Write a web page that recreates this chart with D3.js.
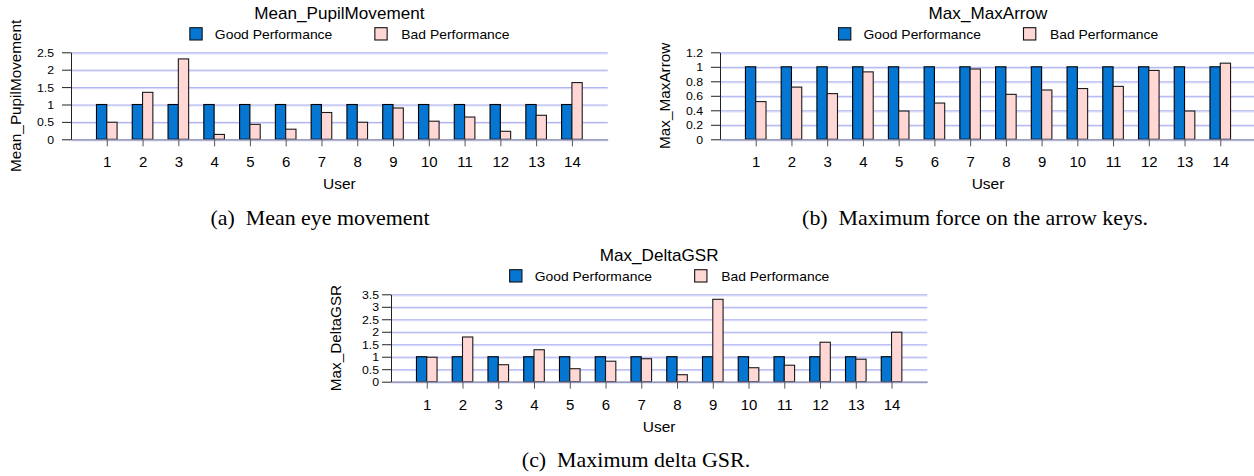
<!DOCTYPE html>
<html><head><meta charset="utf-8">
<script src="https://cdn.jsdelivr.net/npm/d3@7"></script>
<style>body{margin:0;background:#fff} svg{display:block}</style>
</head><body>
<svg id="fig" width="1254" height="476"></svg>
<script>
// ---------------- data ----------------
const users = [1, 2, 3, 4, 5, 6, 7, 8, 9, 10, 11, 12, 13, 14];
const seriesNames = ["Good Performance", "Bad Performance"];

const goodPupil = [1, 1, 1, 1, 1, 1, 1, 1, 1, 1, 1, 1, 1, 1];
const badPupil  = [0.49, 1.35, 2.31, 0.14, 0.43, 0.29, 0.77, 0.49, 0.90, 0.52, 0.64, 0.23, 0.69, 1.63];

const goodArrow = [1, 1, 1, 1, 1, 1, 1, 1, 1, 1, 1, 1, 1, 1];
const badArrow  = [0.52, 0.72, 0.63, 0.93, 0.39, 0.50, 0.97, 0.62, 0.68, 0.70, 0.73, 0.95, 0.39, 1.05];

const goodGSR = [1, 1, 1, 1, 1, 1, 1, 1, 1, 1, 1, 1, 1, 1];
const badGSR  = [0.98, 1.79, 0.68, 1.28, 0.52, 0.82, 0.92, 0.28, 3.30, 0.56, 0.66, 1.58, 0.90, 1.98];

const ticksPupil = [0, 0.5, 1, 1.5, 2, 2.5];
const ticksArrow = [0, 0.2, 0.4, 0.6, 0.8, 1, 1.2];
const ticksGSR   = [0, 0.5, 1, 1.5, 2, 2.5, 3, 3.5];

const titles   = ["Mean_PupilMovement", "Max_MaxArrow", "Max_DeltaGSR"];
const captions = ["(a)\u2002Mean eye movement", "(b)\u2002Maximum force on the arrow keys.", "(c)\u2002Maximum delta GSR."];
const xLabel = "User";

// ---------------- style / layout ----------------
const SANS = "'Liberation Sans', Arial, Helvetica, sans-serif";
const SERIF = "'Liberation Serif', 'Times New Roman', serif";
const SX = 1.07; // horizontal stretch of text seen in reference
const colGood = "#0577d3", colBad = "#ffd8d6";
const gridDark = "#abaef2", gridLight = "#dfe0fa";

const svg = d3.select("#fig");

const charts = [
  {good: goodPupil, bad: badPupil, ticks: ticksPupil, title: titles[0], cap: captions[0],
   left: 71, right: 607.7, top: 52.3, bottom: 139.3, capX: 320, capY: 225, tickFont: 11.5, yPad: 8},
  {good: goodArrow, bad: badArrow, ticks: ticksArrow, title: titles[1], cap: captions[1],
   left: 720, right: 1256, top: 52.3, bottom: 139.3, capX: 975, capY: 225, tickFont: 11.5, yPad: 8},
  {good: goodGSR, bad: badGSR, ticks: ticksGSR, title: titles[2], cap: captions[2],
   left: 391, right: 927.3, top: 294.3, bottom: 381.7, capX: 636, capY: 467, tickFont: 11.5, yPad: 3}
];

function stretchText(sel, x, y, sx) {
  sel.attr("x", null).attr("y", null)
     .attr("transform", `translate(${x},${y}) scale(${sx},1)`);
  return sel;
}

charts.forEach(c => {
  const g = svg.append("g");
  const x = d3.scaleLinear().domain([0, users.length + 1]).range([c.left, c.right]);
  const y = d3.scaleLinear().domain([0, d3.max(c.ticks)]).range([c.bottom, c.top]);
  const band = x(1) - x(0);
  const bw = band * 0.288;
  const cx = (c.left + c.right) / 2;

  // gridlines
  const grid = g.append("g");
  c.ticks.forEach(t => {
    grid.append("line").attr("x1", c.left).attr("x2", c.right)
      .attr("y1", y(t) + 1.5).attr("y2", y(t) + 1.5)
      .attr("stroke", gridLight).attr("stroke-width", 1.2);
    grid.append("line").attr("x1", c.left).attr("x2", c.right)
      .attr("y1", y(t) + 0.5).attr("y2", y(t) + 0.5)
      .attr("stroke", gridDark).attr("stroke-width", 1);
  });

  // bars
  const rows = users.map((u, i) => ({u, good: c.good[i], bad: c.bad[i]}));
  g.append("g").selectAll("rect.good").data(rows).join("rect")
    .attr("x", d => x(d.u) - bw).attr("width", bw)
    .attr("y", d => y(d.good)).attr("height", d => y(0) - y(d.good))
    .attr("fill", colGood).attr("stroke", "#000").attr("stroke-width", 1.1);
  g.append("g").selectAll("rect.bad").data(rows).join("rect")
    .attr("x", d => x(d.u)).attr("width", bw)
    .attr("y", d => y(d.bad)).attr("height", d => y(0) - y(d.bad))
    .attr("fill", colBad).attr("stroke", "#1a1a1a").attr("stroke-width", 1.1);

  // x axis
  const xa = g.append("g").attr("transform", `translate(0,${c.bottom})`)
    .call(d3.axisBottom(x).tickValues(users).tickSize(7).tickSizeOuter(0));
  xa.select(".domain").attr("stroke", "#8f90a8").attr("stroke-width", 1.3);
  xa.selectAll(".tick line").attr("stroke", "#555");
  xa.selectAll(".tick text").each(function() {
    const t = d3.select(this);
    t.attr("dy", null).attr("font-size", 14).attr("font-family", SANS).attr("fill", "#000");
    stretchText(t, 0, 28, SX);
  });

  // y axis
  const ya = g.append("g").attr("transform", `translate(${c.left},0)`)
    .call(d3.axisLeft(y).tickValues(c.ticks).tickSize(9).tickSizeOuter(0).tickFormat(d => String(d)));
  ya.select(".domain").attr("stroke", "#222");
  ya.selectAll(".tick line").attr("stroke", "#222");
  ya.selectAll(".tick text").each(function() {
    const t = d3.select(this);
    t.attr("font-size", c.tickFont).attr("font-family", SANS).attr("fill", "#000").attr("dy", "0.34em");
    stretchText(t, -(9 + c.yPad), 0, SX);
  });

  // title
  stretchText(g.append("text").text(c.title).attr("text-anchor", "middle")
    .attr("font-family", SANS).attr("font-size", 16), cx, c.top - 33.5, SX);

  // legend
  const lg = [{name: seriesNames[0], col: colGood, off: -149.5, toff: -124.5},
              {name: seriesNames[1], col: colBad, off: 35.5, toff: 62}];
  lg.forEach(l => {
    g.append("rect").attr("x", cx + l.off).attr("y", c.top - 24.6)
      .attr("width", 12.3).attr("height", 12.3)
      .attr("fill", l.col).attr("stroke", "#111").attr("stroke-width", 1.1);
    stretchText(g.append("text").text(l.name).attr("font-family", SANS).attr("font-size", 13),
      cx + l.toff, c.top - 13.3, SX);
  });

  // axis titles
  stretchText(g.append("text").text(xLabel).attr("text-anchor", "middle")
    .attr("font-family", SANS).attr("font-size", 14.5), cx, c.bottom + 50, SX);
  g.append("text").text(c.title).attr("text-anchor", "middle")
    .attr("font-family", SANS).attr("font-size", 15.3).attr("dy", "0.35em")
    .attr("transform", `translate(${c.left - 55.5},${(c.top + c.bottom) / 2}) rotate(-90)`);

  // caption
  stretchText(svg.append("text").text(c.cap).attr("text-anchor", "middle")
    .attr("font-family", SERIF).attr("font-size", 20.5), c.capX, c.capY, SX);
});
</script>
</body></html>
